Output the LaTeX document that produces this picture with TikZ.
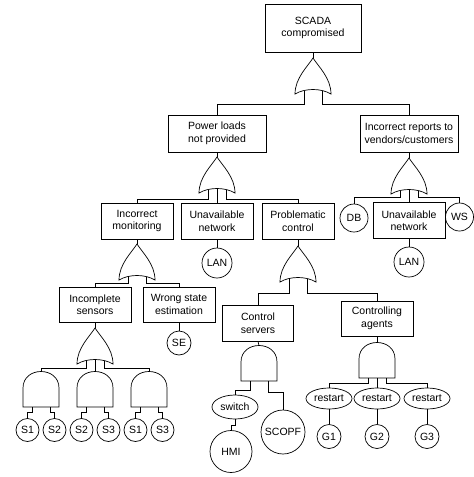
\documentclass[tikz,border=0pt]{standalone}
\usepackage{fontspec}
\setmainfont{Liberation Sans}
\usetikzlibrary{shapes.geometric}
\tikzset{
  orgate/.pic={
    \draw (0,0) .. controls (-5,8) and (-18,20) .. (-18,36)
          .. controls (-8,30) and (8,30) .. (18,36)
          .. controls (18,20) and (5,8) .. (0,0) -- cycle;
    \coordinate (-top) at (0,0);
    \coordinate (-l) at (-9,32.6);
    \coordinate (-c) at (0,31.5);
    \coordinate (-r) at (9,32.6);
  },
  andgate/.pic={
    \draw (-18,36) -- (-18,17) .. controls (-18,-5) and (18,-5) .. (18,17) -- (18,36) -- cycle;
    \coordinate (-top) at (0,0.5);
    \coordinate (-l) at (-9,36);
    \coordinate (-c) at (0,36);
    \coordinate (-r) at (9,36);
  }
}
\begin{document}
\begin{tikzpicture}[x=1pt,y=-1pt,line width=0.7pt,
  every node/.style={font=\fontsize{10.5}{12.5}\selectfont, inner sep=0pt, align=center},
  box/.style={draw, rectangle, minimum width=72pt, minimum height=36pt},
  wbox/.style={box, minimum width=98pt, minimum height=37pt},
  ev/.style={draw, circle, minimum size=#1},
  el/.style={draw, ellipse, minimum width=46pt, minimum height=21pt}]
\useasboundingbox (0,0) rectangle (474,477);

% boxes
\node[box, minimum width=96pt, minimum height=48pt] (top) at (313,28) {SCADA\\compromised};
\node[wbox] (pl) at (217,133.5) {Power loads\\not provided};
\node[wbox] (ir) at (409,133.5) {Incorrect reports to\\vendors/customers};
\node[box] (im) at (137,221) {Incorrect\\monitoring};
\node[box] (un1) at (217,221) {Unavailable\\network};
\node[box] (pc) at (298,221) {Problematic\\control};
\node[box] (un2) at (409,220.5) {Unavailable\\network};
\node[ev=28pt] (db) at (354,218) {DB};
\node[ev=28pt] (ws) at (459.5,217) {WS};
\node[ev=30pt] (lan1) at (217,263) {LAN};
\node[ev=30pt] (lan2) at (409,262) {LAN};
\node[box, minimum height=35pt] (is) at (95,304.5) {Incomplete\\sensors};
\node[box, minimum height=35pt] (wse) at (179,304.5) {Wrong state\\estimation};
\node[ev=24pt] (se) at (179,343) {SE};
\node[box, minimum width=71pt] (cs) at (258,323) {Control\\servers};
\node[box, minimum height=35pt] (ca) at (377,318.5) {Controlling\\agents};

% gates
\pic (g0) at (313,58) {orgate};
\pic (g1) at (217,157) {orgate};
\pic (g2) at (409,158) {orgate};
\pic (g3) at (137,244) {orgate};
\pic (g4) at (298,246) {orgate};
\pic (g5) at (95,328) {orgate};
\pic (a1) at (41,371) {andgate};
\pic (a2) at (95,371) {andgate};
\pic (a3) at (149,371) {andgate};
\pic (a4) at (259,345) {andgate};
\pic (a5) at (377,342) {andgate};

% basic events
\node[ev=23pt] (s1a) at (27.5,430) {S1};
\node[ev=23pt] (s2a) at (54.5,430) {S2};
\node[ev=23pt] (s2b) at (81.5,430) {S2};
\node[ev=23pt] (s3a) at (108.5,430) {S3};
\node[ev=23pt] (s1b) at (135.5,430) {S1};
\node[ev=23pt] (s3b) at (162.5,430) {S3};
\node[el, minimum height=24pt] (sw) at (235,407) {switch};
\node[ev=42pt] (hmi) at (231,451.5) {HMI};
\node[ev=44pt] (scopf) at (283,432) {SCOPF};
\node[el] (r1) at (329,398.5) {restart};
\node[el] (r2) at (377,398.5) {restart};
\node[el] (r3) at (427,398.5) {restart};
\node[ev=24pt] (gg1) at (329,436.5) {G1};
\node[ev=24pt] (gg2) at (377,436.5) {G2};
\node[ev=24pt] (gg3) at (427,436.5) {G3};

% connectors
\draw (top.south) -- (g0-top);
\draw (g0-l) -- ++(0,13.5) -| (pl.north);
\draw (g0-r) -- ++(0,13.5) -| (ir.north);
\draw (pl.south) -- (g1-top);
\draw (g1-l) -- ++(0,9.5) -| (im.north);
\draw (g1-c) -- (un1.north);
\draw (g1-r) -- ++(0,9.5) -| (pc.north);
\draw (un1) -- (lan1);
\draw (ir.south) -- (g2-top);
\draw (g2-l) -- ++(0,6.5) -| (db.north);
\draw (g2-c) -- (un2.north);
\draw (g2-r) -- ++(0,6.5) -| (ws.north);
\draw (un2) -- (lan2);
\draw (im.south) -- (g3-top);
\draw (g3-l) -- ++(0,6.5) -| (is.north);
\draw (g3-r) -- ++(0,6.5) -| (wse.north);
\draw (wse) -- (se);
\draw (pc.south) -- (g4-top);
\draw (g4-l) -- ++(0,15) -| (cs.north);
\draw (g4-r) -- ++(0,15) -| (ca.north);
\draw (is.south) -- (g5-top);
\draw (g5-l) -- ++(0,7.5) -| (a1-top);
\draw (g5-c) -- (a2-top);
\draw (g5-r) -- ++(0,7.5) -| (a3-top);
\draw (a1-l) -- ++(0,5) -| (s1a.north);
\draw (a1-r) -- ++(0,5) -| (s2a.north);
\draw (a2-l) -- ++(0,5) -| (s2b.north);
\draw (a2-r) -- ++(0,5) -| (s3a.north);
\draw (a3-l) -- ++(0,5) -| (s1b.north);
\draw (a3-r) -- ++(0,5) -| (s3b.north);
\draw (cs.south) -- (a4-top);
\draw (a4-l) -- ++(0,9) -| (sw.north);
\draw (a4-r) -- ++(0,11) -| (scopf.north);
\draw (sw.south) -- ++(0,6) -| (hmi.north);
\draw (ca.south) -- (a5-top);
\draw (a5-l) -- ++(0,5) -| (r1.north);
\draw (a5-c) -- (r2.north);
\draw (a5-r) -- ++(0,5) -| (r3.north);
\draw (r1) -- (gg1);
\draw (r2) -- (gg2);
\draw (r3) -- (gg3);
\end{tikzpicture}
\end{document}
